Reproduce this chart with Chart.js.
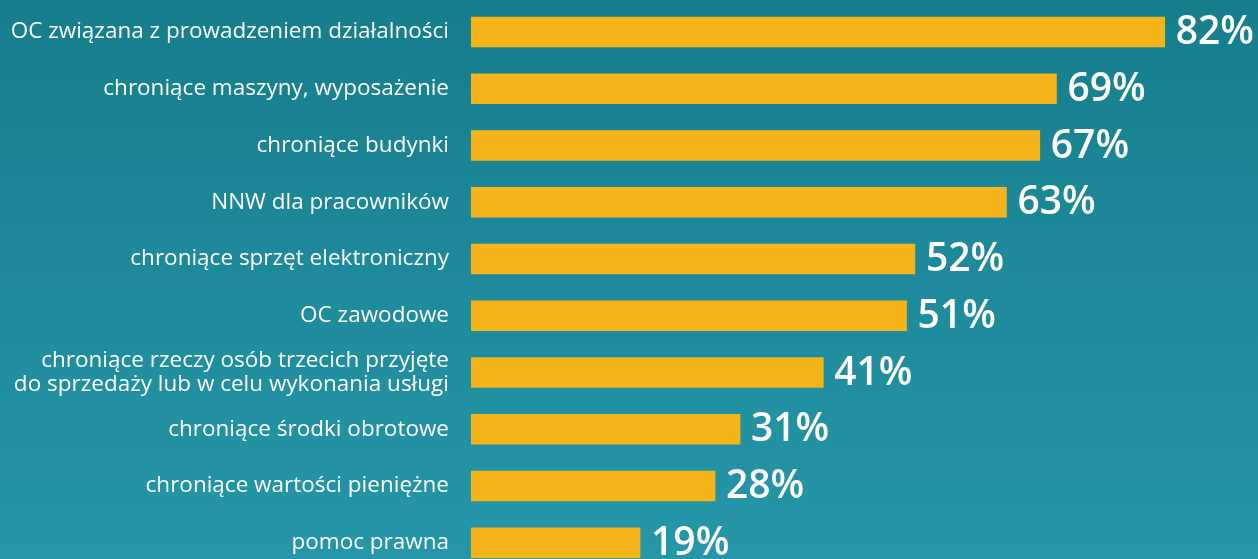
<!DOCTYPE html>
<html lang="pl">
<head>
<meta charset="utf-8">
<title>Ubezpieczenia firm</title>
<script src="https://cdn.jsdelivr.net/npm/chart.js@4"></script>
<style>
  html, body { margin: 0; padding: 0; overflow: hidden; }
  body {
    width: 1258px; height: 559px;
    background: linear-gradient(to bottom, #167e8b 0%, #1e8a9b 50%, #2597a8 100%);
  }
  #wrap { position: relative; width: 1258px; height: 575px; }
</style>
</head>
<body>
<div id="wrap"><canvas id="insChart"></canvas></div>
<script>
// ── Data ────────────────────────────────────────────────────────
const categories = [
  'OC związana z prowadzeniem działalności',
  'chroniące maszyny, wyposażenie',
  'chroniące budynki',
  'NNW dla pracowników',
  'chroniące sprzęt elektroniczny',
  'OC zawodowe',
  ['chroniące rzeczy osób trzecich przyjęte', 'do sprzedaży lub w celu wykonania usługi'],
  'chroniące środki obrotowe',
  'chroniące wartości pieniężne',
  'pomoc prawna'
];
const shares = [82, 69, 67, 63, 52, 51, 41, 31, 28, 19];

const FONT = "'Open Sans', 'Noto Sans', sans-serif";
const AXIS_MIN = -1.3;

// ── Value labels right of each bar ──────────────────────────────
const valueLabels = {
  id: 'valueLabels',
  afterDatasetsDraw(chart) {
    const { ctx } = chart;
    const meta = chart.getDatasetMeta(0);
    ctx.save();
    ctx.fillStyle = '#ffffff';
    ctx.font = `600 39px ${FONT}`;
    ctx.textAlign = 'left';
    ctx.textBaseline = 'middle';
    meta.data.forEach((bar, i) => {
      ctx.fillText(shares[i] + '%', bar.x + 11, bar.y + 1);
    });
    ctx.restore();
  }
};

new Chart(document.getElementById('insChart'), {
  type: 'bar',
  data: {
    labels: categories,
    datasets: [{
      data: shares,
      base: AXIS_MIN,
      backgroundColor: '#f5b419',
      borderWidth: 0,
      barThickness: 30
    }]
  },
  options: {
    indexAxis: 'y',
    responsive: true,
    maintainAspectRatio: false,
    animation: false,
    layout: { padding: { left: 0, right: 0, top: 3.6, bottom: 3.9 } },
    plugins: { legend: { display: false }, tooltip: { enabled: false } },
    scales: {
      x: {
        min: AXIS_MIN,
        max: 93.2,
        display: false
      },
      y: {
        grid: { display: false, drawTicks: false },
        border: { display: false },
        afterFit(scale) {
          scale.width = 471;
          scale.paddingTop = 0;
          scale.paddingBottom = 0;
        },
        ticks: {
          color: '#ffffff',
          padding: 22,
          font: { family: FONT, size: 22.5, lineHeight: 1.08 }
        }
      }
    }
  },
  plugins: [valueLabels]
});
</script>
</body>
</html>
